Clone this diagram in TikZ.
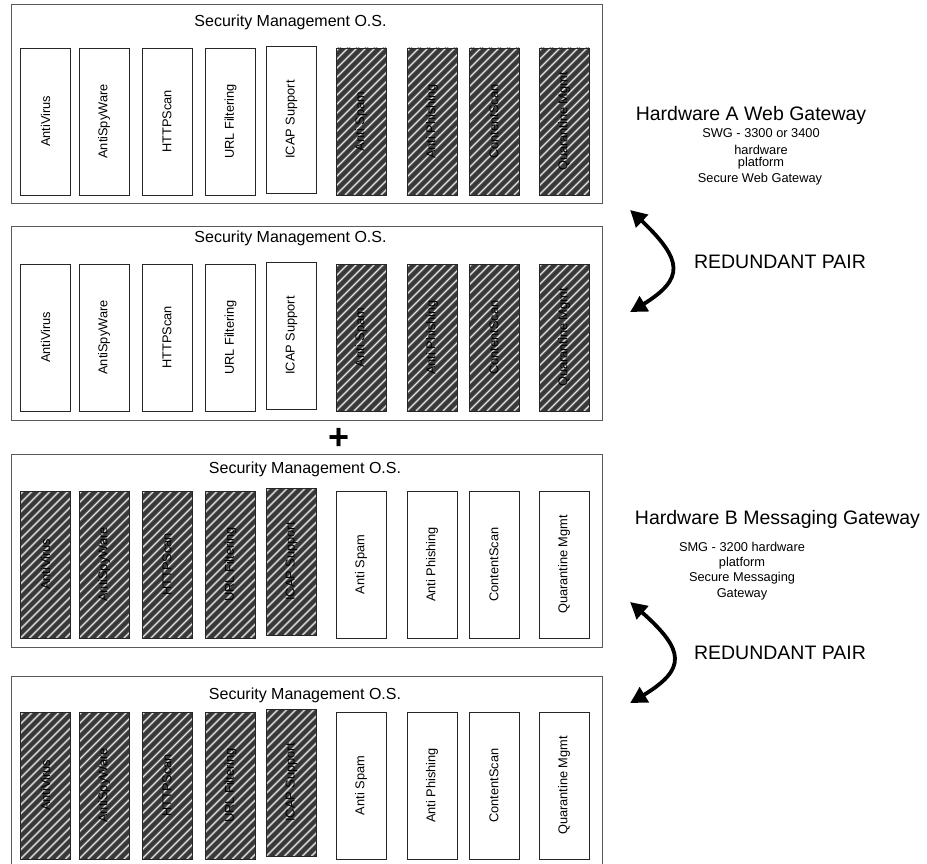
\documentclass[tikz,border=0pt]{standalone}
\usepackage{fontspec}
\setmainfont{Liberation Sans}
\usetikzlibrary{arrows.meta,bending}
\tikzset{
  osbox/.style={draw=black!65, line width=0.9pt, fill=white, inner sep=0pt, anchor=north west},
  colbox/.style={draw=black!85, line width=0.8pt, fill=white, minimum width=50pt, minimum height=147pt, inner sep=0pt},
  hatchbox/.style={colbox, fill=black!78,
    path picture={
      \foreach \i in {-22,...,8}{
        \draw[black!52, line width=2.2pt] ([xshift=\i*9pt]path picture bounding box.south west) -- ++(180pt,180pt);
        \draw[white!90!black, line width=0.9pt] ([xshift=\i*9pt]path picture bounding box.south west) -- ++(180pt,180pt);
      }}},
  lbl/.style={rotate=90, font=\fontsize{12.8}{15}\selectfont, inner sep=0pt},
  ostitle/.style={font=\fontsize{16}{19}\selectfont, inner sep=0pt},
  hwtitle/.style={font=\fontsize{19.5}{23}\selectfont, inner sep=0pt},
  hwsub/.style={font=\fontsize{12.8}{15}\selectfont, inner sep=0pt},
  pairlbl/.style={font=\fontsize{19.5}{23}\selectfont, inner sep=0pt},
  pairarrow/.style={line width=3.8pt, {Triangle[length=17pt,width=17pt,bend]}-{Triangle[length=17pt,width=17pt,bend]}},
}
\newcommand\oslayer[5]{%
  \foreach \x/\t/\n in {45.5/AntiVirus/1, 104/AntiSpyWare/2, 167/HTTPScan/3, 230.5/URL Filtering/4}{
    \node[#4] (#1-\n) at ({\x},{#2+73.5}) {};
    \node[lbl] at (#1-\n.center) {\t};
  }
  \node[#4] (#1-5) at (291.5,{#3+73.5}) {};
  \node[lbl] at (#1-5.center) {ICAP Support};
  \foreach \x/\t/\n in {361/Anti Spam/6, 432/Anti Phishing/7, 494/ContentScan/8, 564/Quarantine Mgmt/9}{
    \node[#5] (#1-\n) at ({\x},{#2+73.5}) {};
    \node[lbl] at (#1-\n.center) {\t};
  }
}
\begin{document}
\begin{tikzpicture}[x=1pt,y=-1pt]
\useasboundingbox (0,0) rectangle (927,864);
\node[osbox, minimum width=591pt, minimum height=199pt] (box1) at (11,4) {};
\node[osbox, minimum width=591pt, minimum height=194pt] (box2) at (11,226) {};
\node[osbox, minimum width=591pt, minimum height=193pt] (box3) at (11,454) {};
\node[osbox, minimum width=591pt, minimum height=194pt] (box4) at (11,676) {};
\node[ostitle] (t1) at (290.5,22) {Security Management O.S.};
\node[ostitle] (t2) at (290.5,238) {Security Management O.S.};
\node[ostitle] (t3) at (305,469) {Security Management O.S.};
\node[ostitle] (t4) at (305,695) {Security Management O.S.};
\oslayer{a}{48}{46}{colbox}{hatchbox}
\oslayer{b}{264}{262}{colbox}{hatchbox}
\oslayer{c}{491}{488}{hatchbox}{colbox}
\oslayer{d}{712}{709}{hatchbox}{colbox}
\node[font=\fontsize{36}{40}\selectfont\bfseries, inner sep=0pt] (plus) at (339,439) {+};
\node[hwtitle] (hwA) at (751,115) {Hardware A Web Gateway};
\node[hwsub] (hwA1) at (761,133) {SWG - 3300 or 3400};
\node[hwsub] (hwA2) at (761,150) {hardware};
\node[hwsub] (hwA3) at (761,163) {platform};
\node[hwsub] (hwA4) at (760,179) {Secure Web Gateway};
\coordinate (pA1) at (630,210);
\coordinate (pA2) at (630,312);
\draw[pairarrow] (pA1) .. controls (688,262) and (688,280) .. (pA2);
\node[pairlbl] (rpA) at (780,262) {REDUNDANT PAIR};
\node[hwtitle] (hwB) at (777.5,519) {Hardware B Messaging Gateway};
\node[hwsub] (hwB1) at (742,547) {SMG - 3200 hardware};
\node[hwsub] (hwB2) at (742,563) {platform};
\node[hwsub] (hwB3) at (742,578) {Secure Messaging};
\node[hwsub] (hwB4) at (742,594) {Gateway};
\coordinate (pB1) at (630,602);
\coordinate (pB2) at (630,703);
\draw[pairarrow] (pB1) .. controls (690,652) and (690,670) .. (pB2);
\node[pairlbl] (rpB) at (780,653) {REDUNDANT PAIR};
\end{tikzpicture}
\end{document}
